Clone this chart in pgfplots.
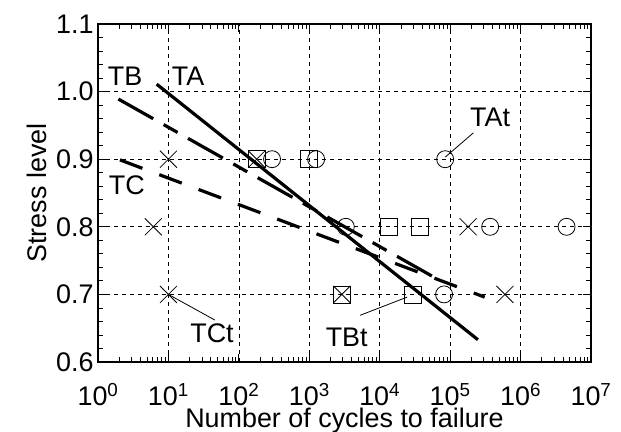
\documentclass[border=0pt]{standalone}
\usepackage{pgfplots}
\pgfplotsset{compat=1.18}
\usepackage{fontspec}
\setmainfont{Liberation Sans}
\begin{document}
\begin{tikzpicture}[font=\fontsize{27}{31}\selectfont]
\begin{axis}[
  scale only axis, width=493bp, height=338bp,
  xmode=log, xmin=1, xmax=1e7, ymin=0.6, ymax=1.1,
  xtick={1,10,100,1000,10000,100000,1000000,10000000},
  xticklabels={10\textsuperscript{0},10\textsuperscript{1},10\textsuperscript{2},10\textsuperscript{3},10\textsuperscript{4},10\textsuperscript{5},10\textsuperscript{6},10\textsuperscript{7}},
  minor xtick={2,3,4,5,6,7,8,9,20,30,40,50,60,70,80,90,200,300,400,500,600,700,800,900,2000,3000,4000,5000,6000,7000,8000,9000,2e4,3e4,4e4,5e4,6e4,7e4,8e4,9e4,2e5,3e5,4e5,5e5,6e5,7e5,8e5,9e5,2e6,3e6,4e6,5e6,6e6,7e6,8e6,9e6},
  ytick={0.6,0.7,0.8,0.9,1.0,1.1},
  yticklabels={0.6,0.7,0.8,0.9,1.0,1.1},
  minor y tick num=4,
  xmajorgrids, ymajorgrids,
  major grid style={black, line width=0.7bp, dash pattern=on 4bp off 4bp},
  axis line style={line width=1.2bp},
  tick style={black, line width=0.8bp},
  major tick length=8bp, minor tick length=5bp,
  xticklabel style={inner sep=1bp, yshift=-20bp},
  yticklabel style={xshift=-1bp},
  xlabel={Number of cycles to failure},
  xlabel style={inner sep=1bp, yshift=0bp},
  ylabel={Stress level},
  ylabel style={yshift=2bp},
  clip=false,
]
\addplot[black, line width=3.2bp] coordinates {(6.81,1.011) (248000,0.633)};
\addplot[black, line width=3.2bp, dash pattern=on 40bp off 12bp on 16bp off 12bp] coordinates {(1.945,0.989) (75900,0.719)};
\addplot[black, line width=3.2bp, dash pattern=on 24bp off 18bp] coordinates {(2.05,0.899) (309000,0.696)};
\addplot[only marks, mark=o, mark size=8.5bp, mark options={black, line width=0.8bp}] coordinates {(296,0.9) (1250,0.9) (85000,0.9) (3300,0.8) (370000,0.8) (4.5e6,0.8) (82000,0.7)};
\addplot[only marks, mark=square, mark size=8.5bp, mark options={black, line width=0.8bp}] coordinates {(179,0.9) (1000,0.9) (13500,0.8) (37000,0.8) (2900,0.7) (30000,0.7)};
\addplot[only marks, mark=x, mark size=12bp, mark options={black, line width=0.8bp}] coordinates {(10,0.9) (179,0.9) (6.1,0.8) (180000,0.8) (10,0.7) (2900,0.7) (600000,0.7)};
\draw[line width=0.8bp] (axis cs:85000,0.903) -- (axis cs:214000,0.939);
\draw[line width=0.8bp] (axis cs:10,0.7) -- (axis cs:45.7,0.662);
\draw[line width=0.8bp] (axis cs:5250,0.669) -- (axis cs:24500,0.696);
\node at (axis cs:2.42,1.022) {TB};
\node at (axis cs:19,1.022) {TA};
\node at (axis cs:2.57,0.862) {TC};
\node at (axis cs:3.7e5,0.962) {TAt};
\node at (axis cs:41.6,0.643) {TCt};
\node at (axis cs:3400,0.637) {TBt};
\end{axis}
\pgfresetboundingbox
\path ([xshift=-98bp,yshift=-70bp]current axis.south west) rectangle ++(621bp,432bp);
\end{tikzpicture}
\end{document}
